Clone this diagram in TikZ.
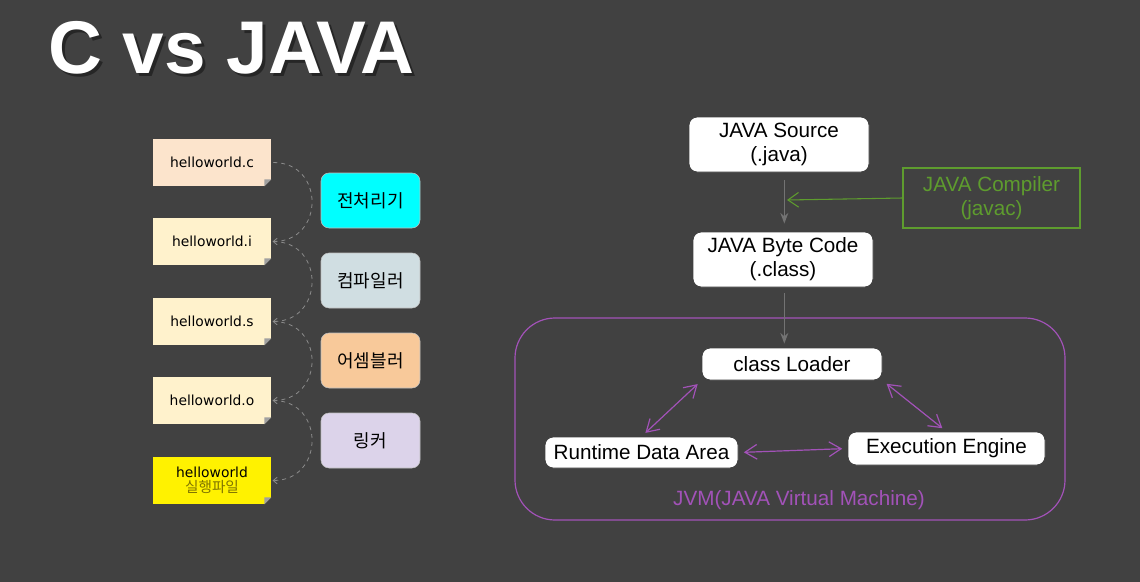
\documentclass[tikz,border=0pt]{standalone}
\usepackage{fontspec}
\setmainfont{Liberation Sans}
\newfontfamily\kr{Noto Sans CJK KR}
\newfontfamily\notefont{DejaVu Sans}
\usetikzlibrary{arrows.meta,calc}
\definecolor{bg}{HTML}{414141}
\definecolor{peach}{HTML}{FCE4CC}
\definecolor{cream}{HTML}{FFF2CC}
\definecolor{cyanbox}{HTML}{00FFFF}
\definecolor{bluegrey}{HTML}{D0DEE2}
\definecolor{orangebox}{HTML}{F8C99A}
\definecolor{lavender}{HTML}{DCD3EA}
\definecolor{compgreen}{HTML}{5E9C2E}
\definecolor{jvmpurple}{HTML}{A252B8}
\definecolor{olive}{HTML}{7F7400}
\definecolor{foldc}{HTML}{A0A0A0}
\newcommand\foldcorner[1]{%
  \fill[bg] ([xshift=-5.25pt]#1.south east) -- ([yshift=5.25pt]#1.south east) -- (#1.south east) -- cycle;
  \fill[foldc] ([xshift=-5.25pt]#1.south east) -- ([yshift=5.25pt]#1.south east) -- ([xshift=-5.25pt,yshift=5.25pt]#1.south east) -- cycle;}
\newcommand\shadowtext[1]{\rlap{\raisebox{-2.25pt}[0pt][0pt]{\hspace{2.25pt}\color{black!85}#1}}#1}
\begin{document}
\begin{tikzpicture}[x=0.75pt,y=-0.75pt,
  sz/.style 2 args={minimum width=#1*0.75pt, minimum height=#2*0.75pt},
  note/.style={inner sep=0pt, font=\notefont\fontsize{10.4}{12.5}\selectfont, text=black, align=center, sz={118}{47}},
  tool/.style={inner sep=0pt, rounded corners=6pt, draw=black!25, line width=0.4pt, font=\kr\fontsize{13.5}{15}\selectfont, text=black, sz={99}{55}},
  conn/.style={draw=black!45, dashed, line width=0.6pt, -{Straight Barb[length=3pt,width=5pt]}},
  jbox/.style={inner sep=0pt, fill=white, draw=black!75, rounded corners=6pt, line width=0.7pt, font=\fontsize{15.5}{18}\selectfont, align=center, text=black},
  garrow/.style={draw=black!55, line width=0.8pt, -{Stealth[length=8pt,width=6pt]}},
  parrow/.style={draw=jvmpurple, line width=0.9pt, {Straight Barb[length=9pt,width=11pt]}-{Straight Barb[length=9pt,width=11pt]}, shorten <=4pt, shorten >=4pt}]
\fill[bg] (0,0) rectangle (1140,582);
\useasboundingbox (0,0) rectangle (1140,582);

% title
\node[anchor=base west, inner sep=0pt, font=\fontsize{56}{60}\bfseries\selectfont, text=white] (title) at (48,73) {\shadowtext{C vs JAVA}};

% C side: files
\node[note, fill=peach] (fc) at (212,162.5) {helloworld.c};
\node[note, fill=cream] (fi) at (212,241.5) {helloworld.i};
\node[note, fill=cream] (fs) at (212,321.5) {helloworld.s};
\node[note, fill=cream] (fo) at (212,400.5) {helloworld.o};
\node[note, fill=yellow] (fx) at (212,480.5) {helloworld\\[-1pt]{\kr\fontsize{11}{12}\selectfont\color{olive}실행파일}};
\foldcorner{fc}\foldcorner{fi}\foldcorner{fs}\foldcorner{fo}\foldcorner{fx}

% C side: tools
\node[tool, fill=cyanbox] (pre) at (370.5,200.5) {전처리기};
\node[tool, fill=bluegrey] (cmp) at (370.5,280.5) {컴파일러};
\node[tool, fill=orangebox] (asm) at (370.5,360.5) {어셈블러};
\node[tool, fill=lavender] (lnk) at (370.5,440.5) {링커};

% curved connectors
\draw[conn] ([xshift=1.5pt]fc.east) .. controls +(52,0) and +(52,0) .. ([xshift=1pt]fi.east);
\draw[conn] ([xshift=1.5pt]fi.east) .. controls +(52,0) and +(52,0) .. ([xshift=1pt]fs.east);
\draw[conn] ([xshift=1.5pt]fs.east) .. controls +(52,0) and +(52,0) .. ([xshift=1pt]fo.east);
\draw[conn] ([xshift=1.5pt]fo.east) .. controls +(52,0) and +(52,0) .. ([xshift=1pt]fx.east);

% JAVA side
\node[jbox, sz={180}{55}] (src) at (779,144.5) {JAVA Source\\(.java)};
\node[jbox, sz={180}{55}] (byte) at (783,259.5) {JAVA Byte Code\\(.class)};
\node[inner sep=0pt, draw=compgreen, line width=0.9pt, text=compgreen, align=center, font=\fontsize{15.5}{18}\selectfont, sz={177}{60}] (comp) at (991.5,198) {JAVA Compiler\\(javac)};
\draw[jvmpurple, line width=0.9pt, rounded corners=30pt] (515,318) rectangle (1065,520);
\node[text=jvmpurple, inner sep=0pt, font=\fontsize{15.5}{18}\selectfont] (jvmlabel) at (799,500) {JVM(JAVA Virtual Machine)};
\node[jbox, sz={180}{32}] (cl) at (792,364) {class Loader};
\node[jbox, sz={193}{31}] (rt) at (641.5,452.5) {Runtime Data Area};
\node[jbox, sz={197}{33}] (ex) at (946.5,448.5) {Execution Engine};

\coordinate (join) at (787,200);
\draw[garrow, shorten <=6pt, shorten >=6pt] ([xshift=4pt]src.south) -- ([xshift=4pt]src.south |- byte.north);
\draw[draw=compgreen, line width=0.8pt, -{Straight Barb[length=8pt,width=11pt]}] (comp.west) -- (join);
\draw[garrow, shorten <=4pt, shorten >=3pt] ([xshift=1pt]byte.south) -- ([xshift=1pt]byte.south |- cl.north);

\draw[parrow] (cl.south west) -- (rt.north);
\draw[parrow] (cl.south east) -- (ex.north);
\draw[parrow] (rt.east) -- (ex.west);
\end{tikzpicture}
\end{document}
